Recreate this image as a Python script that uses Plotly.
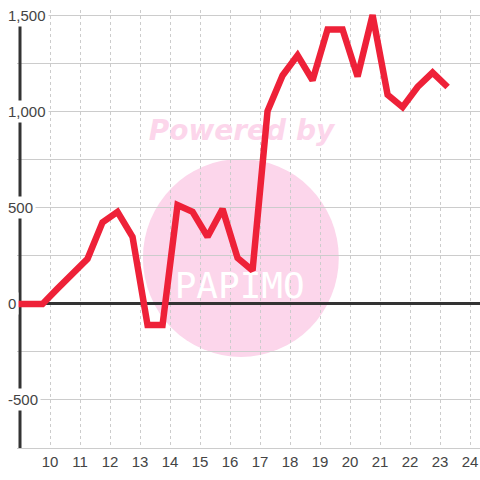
"""Line chart with a watermark, rebuilt in Plotly."""

import plotly.graph_objects as go

# data
x_values = [8.75, 9.25, 9.75, 10.25, 10.75, 11.25, 11.75, 12.25, 12.75, 13.25,
            13.75, 14.25, 14.75, 15.25, 15.75, 16.25, 16.75, 17.25, 17.75, 18.25,
            18.75, 19.25, 19.75, 20.25, 20.75, 21.25, 21.75, 22.25, 22.75, 23.25]
y_values = [0, 0, 0, 80, 160, 235, 425, 480, 350, -110,
            -110, 515, 480, 350, 495, 240, 175, 1005, 1190, 1295,
            1165, 1430, 1430, 1185, 1505, 1090, 1025, 1130, 1205, 1130]

x_ticks = list(range(10, 25))
y_tick_vals = [-500, 0, 500, 1000, 1500]
y_tick_text = ["-500", "0", "500", "1,000", "1,500"]

LINE_COLOR = "#EE2138"
GRID_COLOR = "#CCCCCC"
AXIS_COLOR = "#333333"
TEXT_COLOR = "#444444"
PINK = "#FCD6EB"
FONT = "Liberation Sans, Arial, sans-serif"

fig = go.Figure()

# watermark text, drawn first so the data line sits on top
fig.add_trace(go.Scatter(
    x=[16.38], y=[890], mode="text", text=["<b><i>Powered by</i></b>"],
    textfont=dict(family="DejaVu Sans", size=28, color=PINK),
    hoverinfo="skip", showlegend=False,
))
fig.add_trace(go.Scatter(
    x=[16.32], y=[80], mode="text", text=["PAPIMO"],
    textfont=dict(family="DejaVu Sans Mono", size=36, color="white"),
    hoverinfo="skip", showlegend=False,
))

fig.add_trace(go.Scatter(
    x=x_values, y=y_values, mode="lines",
    line=dict(color=LINE_COLOR, width=6.5),
    hoverinfo="skip", showlegend=False,
))

# pink circle of the watermark
fig.add_shape(type="circle", xref="paper", yref="paper",
              x0=0.272, x1=0.695, y0=0.208, y1=0.660,
              fillcolor=PINK, line_width=0, layer="below")

# y axis line
fig.add_shape(type="line", xref="x", yref="y", x0=9, x1=9, y0=-750, y1=1530,
              line=dict(color=AXIS_COLOR, width=3), layer="between")

for v, t in zip(y_tick_vals, y_tick_text):
    fig.add_annotation(
        xref="paper", yref="y", x=-0.026, y=v, text=t, showarrow=False,
        xanchor="left", yanchor="middle", bgcolor="white", borderpad=2,
        font=dict(family=FONT, size=15, color=TEXT_COLOR),
    )

fig.update_xaxes(
    range=[8.9, 24.33], tickvals=x_ticks, ticktext=[str(v) for v in x_ticks],
    showgrid=True, gridcolor=GRID_COLOR, gridwidth=1, griddash="3px,3px",
    showline=True, linecolor=GRID_COLOR, linewidth=1,
    zeroline=False, ticks="", tickfont=dict(family=FONT, size=15, color=TEXT_COLOR),
)
fig.update_yaxes(
    range=[-750, 1531], tick0=0, dtick=250, showticklabels=False,
    showgrid=True, gridcolor=GRID_COLOR, gridwidth=1,
    zeroline=True, zerolinecolor=AXIS_COLOR, zerolinewidth=3, ticks="",
)
fig.update_layout(
    width=480, height=480,
    margin=dict(l=17, r=0, t=10, b=32),
    paper_bgcolor="white", plot_bgcolor="white",
    showlegend=False,
)

# drop the page's default body margin so the 480px figure fits the window
fig.write_html(
    "out.html",
    config={"displayModeBar": False},
    post_script="document.body.style.margin='0';",
)
